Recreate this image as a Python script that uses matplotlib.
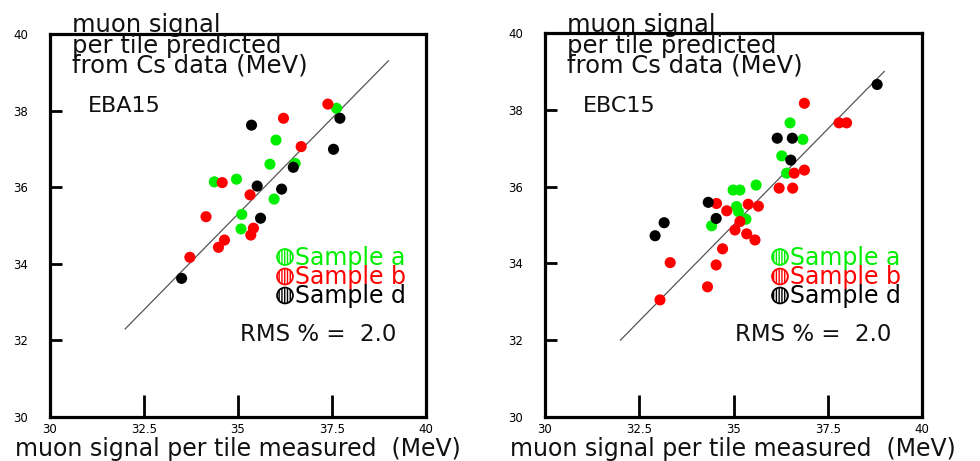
import matplotlib
matplotlib.use("Agg")
import matplotlib.pyplot as plt

# ---------------- data ----------------
# EBA15 panel
eba_a_x = [37.62, 36.01, 35.85, 36.52, 34.37, 34.96, 35.96, 35.10, 35.08]
eba_a_y = [38.06, 37.23, 36.60, 36.62, 36.14, 36.21, 35.69, 35.29, 34.91]
eba_b_x = [37.39, 36.21, 36.68, 34.58, 35.32, 34.15, 35.41, 35.34, 34.64, 34.48, 33.72]
eba_b_y = [38.17, 37.80, 37.06, 36.12, 35.80, 35.23, 34.93, 34.75, 34.62, 34.43, 34.17]
eba_d_x = [37.71, 35.36, 37.54, 36.47, 35.51, 36.16, 35.60, 33.50]
eba_d_y = [37.80, 37.62, 36.99, 36.52, 36.03, 35.95, 35.19, 33.62]
eba_fit_x = [32.0, 39.0]
eba_fit_y = [32.3, 39.3]

# EBC15 panel
ebc_a_x = [36.50, 36.84, 36.28, 36.41, 35.60, 34.99, 35.17, 35.08, 35.13, 35.33, 34.42]
ebc_a_y = [37.66, 37.23, 36.80, 36.35, 36.04, 35.91, 35.91, 35.48, 35.35, 35.15, 34.98]
ebc_b_x = [36.88, 37.80, 38.00, 36.61, 36.88, 36.21, 36.57, 34.55, 34.82, 35.39,
           35.66, 35.17, 35.04, 35.35, 35.57, 34.71, 33.32, 34.54, 34.31, 33.05]
ebc_b_y = [38.17, 37.66, 37.66, 36.35, 36.43, 35.96, 35.96, 35.56, 35.37, 35.54,
           35.49, 35.09, 34.87, 34.77, 34.61, 34.38, 34.02, 33.96, 33.39, 33.05]
ebc_d_x = [38.81, 36.16, 36.56, 36.52, 34.33, 34.54, 33.16, 32.92]
ebc_d_y = [38.66, 37.26, 37.26, 36.69, 35.59, 35.17, 35.06, 34.72]
ebc_fit_x = [32.0, 39.0]
ebc_fit_y = [32.0, 39.0]

panel_names = ["EBA15", "EBC15"]
sample_labels = ["Sample a", "Sample b", "Sample d"]
rms_values = ["2.0", "2.0"]
x_ticks = [30, 32.5, 35, 37.5, 40]
x_ticklabels = ["30", "32.5", "35", "37.5", "40"]
y_ticks = [30, 32, 34, 36, 38, 40]
y_ticklabels = ["30", "32", "34", "36", "38", "40"]
title_lines = ["muon signal", "per tile predicted", "from Cs data (MeV)"]
x_label = "muon signal per tile measured  (MeV)"

colors = ["#00ee00", "#ff0000", "#000000"]

# ---------------- figure ----------------
W, H = 980, 461
fig = plt.figure(figsize=(W / 100, H / 100), dpi=100)
plt.rcParams["font.family"] = ["DejaVu Sans"]
plt.rcParams["hatch.linewidth"] = 1.0


def fx(px):
    return px / W


def fy(py):
    return 1 - py / H


panels = [
    dict(name=panel_names[0], rms=rms_values[0],
         series=[(eba_a_x, eba_a_y), (eba_b_x, eba_b_y), (eba_d_x, eba_d_y)],
         fit=(eba_fit_x, eba_fit_y),
         frame=(50, 34, 426, 417), off=0),
    dict(name=panel_names[1], rms=rms_values[1],
         series=[(ebc_a_x, ebc_a_y), (ebc_b_x, ebc_b_y), (ebc_d_x, ebc_d_y)],
         fit=(ebc_fit_x, ebc_fit_y),
         frame=(545, 33, 922, 417), off=495),
]

for p in panels:
    x0, y0, x1, y1 = p["frame"]
    off = p["off"]
    ax = fig.add_axes([fx(x0), fy(y1), (x1 - x0) / W, (y1 - y0) / H])
    ax.set_xlim(30, 40)
    ax.set_ylim(30, 40)
    ax.set_xticks(x_ticks)
    ax.set_xticklabels(x_ticklabels)
    ax.set_yticks(y_ticks)
    ax.set_yticklabels(y_ticklabels)
    ax.tick_params(axis="x", direction="in", length=16, width=2.0, pad=4.5,
                   labelsize=8.5)
    ax.tick_params(axis="y", direction="in", length=8.5, width=2.0, pad=16,
                   labelsize=8.5)
    for s in ax.spines.values():
        s.set_linewidth(2.3)

    ax.plot(p["fit"][0], p["fit"][1], color="#555555", lw=0.9, zorder=2)
    for (xs, ys), c in zip(p["series"], colors):
        ax.scatter(xs, ys, s=64, color=c, edgecolors="none", zorder=3)

    # titles
    for ln, base in zip(title_lines, [32, 53, 73]):
        fig.text(fx(72 + off), fy(base), ln, fontsize=17.5, va="baseline",
                 ha="left", color="#111111")
    fig.text(fx(90 + off - 2), fy(112), p["name"], fontsize=16, va="baseline",
             ha="left", color="#111111")

    # legend
    for lab, c, cy, base in zip(sample_labels, colors, [257, 276.5, 295.5],
                                [265, 284, 303]):
        fig.text(fx(295 + off), fy(base), lab, fontsize=17, va="baseline",
                 ha="left", color=c)
        ax.scatter([fx(285 + off)], [fy(cy)], s=130, facecolors="none",
                   edgecolors=c, linewidths=1.3, hatch="||||||",
                   transform=fig.transFigure, clip_on=False, zorder=4)

    fig.text(fx(240 + off), fy(341), "RMS % =  " + p["rms"], fontsize=16.5,
             va="baseline", ha="left", color="#111111")

    fig.text(fx(15 + off), fy(456), x_label, fontsize=17, va="baseline",
             ha="left", color="#111111")

fig.savefig("out.png", dpi=100)
